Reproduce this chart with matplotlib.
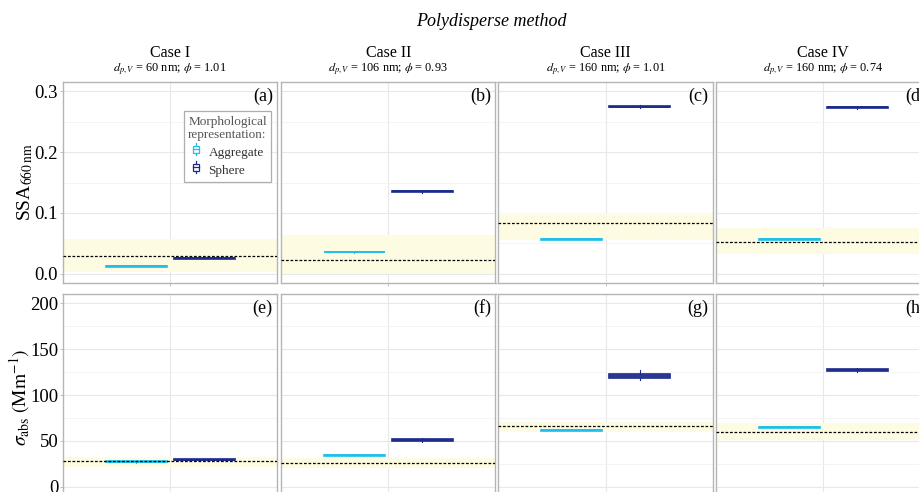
import matplotlib
matplotlib.use('Agg')
import matplotlib.pyplot as plt
from matplotlib.legend_handler import HandlerBase
from matplotlib.patches import Rectangle
from matplotlib.lines import Line2D
from matplotlib.ticker import MultipleLocator
from matplotlib.colors import to_rgba

plt.rcParams['font.family'] = ['Liberation Serif', 'DejaVu Serif']
plt.rcParams['mathtext.fontset'] = 'stix'

# ---- data ----
cases = ['Case I', 'Case II', 'Case III', 'Case IV']
dpv = [60, 106, 160, 160]
phi = ['1.01', '0.93', '1.01', '0.74']
panel_tags = [['(a)', '(b)', '(c)', '(d)'], ['(e)', '(f)', '(g)', '(h)']]
morph = ['Aggregate', 'Sphere']

# boxplot summaries: (whislo, q1, med, q3, whishi)
ssa_agg = [(0.0115, 0.0120, 0.0125, 0.0130, 0.0135),
           (0.0350, 0.0355, 0.0360, 0.0365, 0.0370),
           (0.0555, 0.0560, 0.0565, 0.0570, 0.0575),
           (0.0555, 0.0560, 0.0565, 0.0570, 0.0575)]
ssa_sph = [(0.0245, 0.0252, 0.0260, 0.0268, 0.0275),
           (0.1320, 0.1345, 0.1355, 0.1365, 0.1385),
           (0.2725, 0.2738, 0.2745, 0.2752, 0.2765),
           (0.2710, 0.2728, 0.2735, 0.2742, 0.2755)]
ssa_meas = [0.029, 0.022, 0.083, 0.0527]
ssa_lo = [0.003, 0.000, 0.0553, 0.033]
ssa_hi = [0.0565, 0.063, 0.1005, 0.0758]

abs_agg = [(26.3, 26.8, 27.2, 27.6, 28.1),
           (33.3, 33.9, 34.4, 34.9, 35.5),
           (60.5, 61.1, 61.6, 62.1, 62.7),
           (63.9, 64.4, 64.9, 65.4, 65.9)]
abs_sph = [(28.2, 28.8, 29.3, 29.8, 30.4),
           (49.3, 50.1, 51.0, 51.9, 52.7),
           (116.3, 118.2, 120.4, 122.6, 127.0),
           (124.8, 126.3, 127.2, 128.1, 129.6)]
abs_meas = [28.3, 25.4, 66.3, 59.8]
abs_lo = [22, 20, 60, 51]
abs_hi = [33, 31.2, 71, 70]

colors = {'Aggregate': '#1cc0ea', 'Sphere': '#1c2a8c'}
band_color = '#fdfbe1'
frame_color = '#b5b5b5'


class HandlerBox(HandlerBase):
    # tiny vertical boxplot glyph for the legend
    def create_artists(self, legend, orig_handle, xd, yd, width, height, fontsize, trans):
        c = orig_handle.get_color()
        cx = xd + width / 2
        bw = width * 0.6
        bh = height * 0.6
        by = yd + (height - bh) / 2
        rect = Rectangle((cx - bw / 2, by), bw, bh, facecolor='white',
                         edgecolor=c, lw=0.9, transform=trans)
        med = Line2D([cx - bw / 2, cx + bw / 2], [by + bh / 2] * 2, color=c, lw=0.9, transform=trans)
        w1 = Line2D([cx, cx], [by + bh, yd + height], color=c, lw=0.9, transform=trans)
        w2 = Line2D([cx, cx], [by, yd], color=c, lw=0.9, transform=trans)
        return [rect, med, w1, w2]


def to_stats(t):
    return dict(whislo=t[0], q1=t[1], med=t[2], q3=t[3], whishi=t[4], fliers=[])


fig = plt.figure(figsize=(9.2, 4.92), dpi=100)
W, H = 920.0, 492.0
col_left = [63, 281, 498.5, 716]
col_w = 214.5
rows = [(82, 283), (294, 496)]

rowdata = [
    (ssa_agg, ssa_sph, ssa_meas, ssa_lo, ssa_hi, (-0.015, 0.315), 0.1, 0.05, '{:.1f}'),
    (abs_agg, abs_sph, abs_meas, abs_lo, abs_hi, (-10, 210), 50, 25, '{:.0f}'),
]

axes = []
for r, (top, bot) in enumerate(rows):
    agg, sph, meas, lo, hi, ylim, maj, mnr, fmt = rowdata[r]
    for c in range(4):
        ax = fig.add_axes([col_left[c] / W, 1 - bot / H, col_w / W, (bot - top) / H])
        axes.append(ax)
        ax.set_axisbelow(True)
        ax.set_xlim(0.4, 1.6)
        ax.set_ylim(*ylim)
        ax.yaxis.set_major_locator(MultipleLocator(maj))
        ax.yaxis.set_minor_locator(MultipleLocator(mnr))
        ax.set_xticks([1])
        ax.set_xticklabels([])
        ax.grid(which='major', color='#e8e8e8', lw=0.8)
        ax.grid(which='minor', axis='y', color='#f2f2f2', lw=0.6)
        ax.tick_params(which='both', color=frame_color, length=2, width=0.6, labelsize=13.5, pad=1.5)
        ax.tick_params(which='minor', length=0)
        if c > 0:
            ax.tick_params(axis='y', labelleft=False, length=0)
        else:
            ax.set_yticklabels([fmt.format(v) for v in ax.get_yticks()])
        for s in ax.spines.values():
            s.set_color(frame_color)
            s.set_linewidth(1.0)

        ax.axhspan(lo[c], hi[c], color=band_color, lw=0, zorder=1)
        ax.axhline(meas[c], color='black', ls=(0, (2.2, 1.4)), lw=0.9, zorder=4)

        bp = ax.bxp([to_stats(agg[c]), to_stats(sph[c])], positions=[0.81, 1.19],
                    widths=0.34, showfliers=False, showcaps=False, patch_artist=True,
                    manage_ticks=False, zorder=3)
        for i, m in enumerate(morph):
            col = colors[m]
            bp['boxes'][i].set(facecolor=to_rgba(col, 0.6), edgecolor=col, lw=1.2)
            bp['medians'][i].set(color=col, lw=1.2)
            for w in bp['whiskers'][2 * i:2 * i + 2]:
                w.set(color=col, lw=0.8)

        ax.text(0.978, 0.93, panel_tags[r][c], transform=ax.transAxes,
                ha='right', va='center', fontsize=13)

        if r == 0:
            cx = (col_left[c] + col_w / 2) / W
            fig.text(cx, 1 - 53 / H, cases[c], ha='center', va='center', fontsize=11.5)
            fig.text(cx, 1 - 70 / H, r'$d_{p,V}$ = %d nm; $\phi$ = %s' % (dpv[c], phi[c]),
                     ha='center', va='center', fontsize=8.8)

fig.text(25 / W, 1 - 182 / H, r'SSA$_{\mathrm{660\,nm}}$', rotation=90,
         ha='center', va='center', fontsize=14)
fig.text(20 / W, 1 - 397 / H, r'$\sigma_{\mathrm{abs}}\ \left(\mathrm{Mm^{-1}}\right)$',
         rotation=90, ha='center', va='center', fontsize=14)

fig.text(491 / W, 1 - 22 / H, 'Polydisperse method', ha='center', va='center',
         fontsize=13, style='italic')

handles = [Line2D([], [], color=colors[m]) for m in morph]
leg = axes[0].legend(handles, morph, title='Morphological\nrepresentation:',
                     handler_map={Line2D: HandlerBox()}, loc='upper right',
                     bbox_to_anchor=(0.972, 0.856), borderaxespad=0, fontsize=9.5,
                     title_fontsize=9.5, frameon=True, fancybox=False,
                     handlelength=0.7, handleheight=1.0, handletextpad=0.6,
                     borderpad=0.35, labelspacing=0.35)
leg.get_frame().set_edgecolor('#9a9a9a')
leg.get_frame().set_linewidth(0.9)
leg.get_title().set_color('#555555')
for t in leg.get_texts():
    t.set_color('#333333')

fig.savefig('out.png', dpi=100)
